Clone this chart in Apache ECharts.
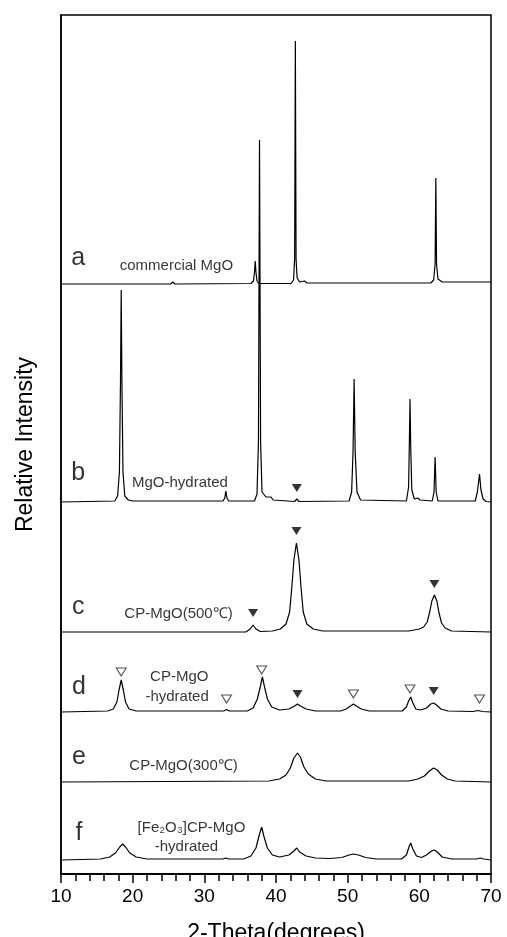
<!DOCTYPE html>
<html>
<head>
<meta charset="utf-8">
<script src="https://cdn.jsdelivr.net/npm/echarts@6/dist/echarts.min.js"></script>
<style>
  html, body { margin: 0; padding: 0; background: #fff; }
  #chart { width: 507px; height: 937px; }
</style>
</head>
<body>
<div id="chart"></div>
<script>
// XRD patterns, stacked. Each pattern: [2-theta, intensity above its own baseline]
const patternNames = ['a', 'b', 'c', 'd', 'e', 'f'];

// vertical offset of each pattern's baseline (same units as intensity)
const offsets = [590, 372, 242, 162, 92, 14];

const commercialMgO = [
  [10, 0], [25.3, 0], [25.6, 2], [25.9, 0], [36.5, 0.5], [36.85, 3], [37.0, 12], [37.1, 23], [37.2, 12],
  [37.35, 3], [37.6, 0.5], [42.1, 0.5], [42.45, 4], [42.6, 25], [42.7, 243], [42.8, 25], [42.95, 6],
  [43.3, 2], [44.0, 3], [44.3, 1], [61.6, 1], [62.0, 4], [62.2, 20], [62.3, 106], [62.4, 20], [62.6, 5],
  [63.2, 2], [70, 2]
];

const mgoHydrated = [
  [10, 0], [17.5, 1], [17.9, 6], [18.15, 30], [18.3, 120], [18.4, 212], [18.5, 120], [18.65, 30],
  [18.9, 6], [19.4, 2], [20, 1], [32.6, 1], [32.85, 4], [33.0, 11], [33.15, 4], [33.4, 1], [37.0, 1],
  [37.35, 8], [37.55, 60], [37.7, 362], [37.85, 60], [38.05, 10], [38.6, 5], [39.3, 5], [39.6, 2],
  [42.6, 0.5], [42.9, 3], [43.2, 0.5], [50.2, 1], [50.55, 10], [50.75, 50], [50.9, 123], [51.05, 50],
  [51.3, 10], [51.8, 2], [58.2, 1], [58.5, 15], [58.6, 55], [58.7, 103], [58.8, 55], [58.95, 12],
  [59.3, 3], [59.8, 4], [60.1, 2], [61.8, 1], [62.05, 10], [62.2, 45], [62.35, 10], [62.6, 1],
  [67.8, 1], [68.1, 10], [68.4, 28], [68.6, 12], [68.9, 3], [69.3, 0.5], [70, 0]
];

const cpMgO500 = [
  [10, 0], [35.8, 0], [36.4, 3], [36.8, 7], [37.2, 3], [37.8, 0.5], [39.5, 1], [40.6, 3], [41.4, 8],
  [41.9, 20], [42.2, 44], [42.5, 72], [42.85, 89], [43.2, 72], [43.5, 44], [43.8, 20], [44.3, 8],
  [45.2, 3], [46.5, 1], [58.5, 1], [60.0, 3], [60.6, 5], [61.1, 10], [61.45, 20], [61.75, 31],
  [62.1, 37], [62.45, 31], [62.75, 19], [63.1, 9], [63.6, 4], [64.5, 1], [70, 0]
];

const cpMgOHydrated = [
  [10, 0], [16.5, 1], [17.3, 3], [17.8, 10], [18.1, 22], [18.4, 32], [18.7, 22], [19.0, 10], [19.5, 3],
  [20.5, 1], [32.7, 1], [33.1, 2.5], [33.5, 1], [36.0, 1], [36.8, 4], [37.4, 13], [37.8, 25], [38.1, 35],
  [38.4, 25], [38.8, 13], [39.4, 5], [40.5, 2], [41.8, 3], [42.6, 6], [43.0, 8], [43.4, 6], [44.2, 3],
  [45.5, 1], [49.0, 1], [49.8, 3], [50.4, 6], [50.8, 8], [51.2, 6], [51.9, 3], [53, 1], [57.6, 1],
  [58.2, 5], [58.5, 11], [58.8, 15], [59.1, 9], [59.5, 3], [60.2, 2], [61.0, 4], [61.6, 8], [62.0, 9],
  [62.4, 7], [63.0, 3], [64, 1], [67.5, 0.5], [68.2, 1.5], [68.8, 0.5], [70, 0]
];

const cpMgO300 = [
  [10, 0], [39, 1], [40.5, 3], [41.4, 7], [42.0, 14], [42.5, 24], [43.0, 29], [43.4, 25], [43.9, 15],
  [44.5, 8], [45.5, 3], [47, 1], [58.5, 1], [59.8, 3], [60.7, 6], [61.4, 11], [62.0, 14], [62.5, 12],
  [63.1, 7], [63.9, 3], [65, 1], [70, 0]
];

const fe2o3Hydrated = [
  [10, 0], [15.5, 1], [16.8, 3], [17.6, 7], [18.2, 13], [18.6, 16], [19.0, 13], [19.6, 7], [20.5, 3],
  [22, 1], [32.6, 1], [33.0, 2], [33.4, 1], [35.5, 1], [36.5, 4], [37.2, 12], [37.7, 26], [38.0, 33],
  [38.3, 24], [38.8, 12], [39.5, 5], [40.5, 3], [41.8, 5], [42.5, 9], [42.9, 12], [43.3, 8], [44.2, 4],
  [45.5, 2], [47.5, 1.5], [49.2, 2.5], [50.2, 5], [50.8, 6], [51.5, 5], [52.5, 2.5], [54, 1], [57.5, 1],
  [58.2, 5], [58.6, 14], [58.8, 17], [59.1, 11], [59.6, 4], [60.3, 2.5], [61.0, 5], [61.7, 9],
  [62.1, 10], [62.5, 8], [63.2, 3], [64.5, 1], [68, 1], [68.5, 2], [69, 1], [70, 0]
];

const patterns = [commercialMgO, mgoHydrated, cpMgO500, cpMgOHydrated, cpMgO300, fe2o3Hydrated];

// peak markers (absolute positions in the stacked plot)
const filledMarks = [[42.9, 386], [36.8, 261], [42.85, 343], [62.1, 290], [43.0, 180], [62.0, 183]];
const openMarks = [[18.4, 202], [33.1, 175], [38.0, 204], [50.8, 180], [58.7, 185], [68.4, 175]];

// letter labels and sample names
const letterPos = [[12.4, 616], [12.4, 401], [12.4, 267], [12.5, 187], [12.5, 117], [12.5, 41]];
const sampleLabels = [
  { name: 'commercial MgO', value: [26.1, 608] },
  { name: 'MgO-hydrated', value: [26.6, 391] },
  { name: 'CP-MgO(500℃)', value: [26.4, 260] },
  { name: 'CP-MgO', value: [26.5, 197] },
  { name: '-hydrated', value: [26.2, 177] },
  { name: 'CP-MgO(300℃)', value: [27.1, 108] },
  { name: '[Fe₂O₃]CP-MgO', value: [28.2, 46] },
  { name: '-hydrated', value: [27.5, 27] }
];

const FONT = '"Liberation Sans", Arial, sans-serif';
const chart = echarts.init(document.getElementById('chart'), null, { renderer: 'canvas' });

const lineSeries = patterns.map((pts, i) => ({
  type: 'line',
  name: patternNames[i],
  data: pts.map(p => [p[0], p[1] + offsets[i]]),
  showSymbol: false,
  symbol: 'none',
  lineStyle: { color: '#000', width: 1.2 },
  animation: false,
  silent: true
}));

const option = {
  backgroundColor: '#fff',
  animation: false,
  grid: {
    left: 61, right: 16, top: 15, bottom: 63,
    outerBoundsMode: 'none',
    show: true, borderColor: '#000', borderWidth: 1.5, backgroundColor: 'transparent'
  },
  xAxis: {
    type: 'value',
    min: 10, max: 70, interval: 10,
    name: '2-Theta(degrees)',
    nameLocation: 'middle',
    nameGap: 48,
    nameTextStyle: { fontSize: 23, fontFamily: FONT, color: '#000' },
    axisLine: { show: true, lineStyle: { color: '#000', width: 2 } },
    axisTick: { show: true, inside: false, length: 9, lineStyle: { color: '#000', width: 1.5 } },
    minorTick: { show: true, splitNumber: 5, length: 7, lineStyle: { color: '#000', width: 1.5 } },
    axisLabel: { fontSize: 19, fontFamily: FONT, color: '#000', margin: 13 },
    splitLine: { show: false }
  },
  yAxis: {
    type: 'value',
    min: 0, max: 859,
    name: 'Relative Intensity',
    nameLocation: 'middle',
    nameRotate: 90,
    nameGap: 24,
    nameTextStyle: { fontSize: 23, fontFamily: FONT, color: '#000' },
    axisLine: { show: true, lineStyle: { color: '#000', width: 1.5 } },
    axisTick: { show: false },
    axisLabel: { show: false },
    splitLine: { show: false }
  },
  series: [
    ...lineSeries,
    {
      type: 'scatter',
      data: filledMarks,
      symbol: 'triangle',
      symbolRotate: 180,
      symbolSize: [10, 8],
      itemStyle: { color: '#000' },
      silent: true
    },
    {
      type: 'scatter',
      data: openMarks,
      symbol: 'triangle',
      symbolRotate: 180,
      symbolSize: [10, 8],
      itemStyle: { color: '#fff', borderColor: '#222', borderWidth: 1 },
      silent: true
    },
    {
      type: 'scatter',
      data: letterPos.map((p, i) => ({ name: patternNames[i], value: p })),
      symbolSize: 0,
      label: {
        show: true, position: 'inside', formatter: '{b}',
        fontSize: 25, fontFamily: FONT, color: '#000'
      },
      silent: true
    },
    {
      type: 'scatter',
      data: sampleLabels,
      symbolSize: 0,
      label: {
        show: true, position: 'inside', formatter: '{b}',
        fontSize: 15, fontFamily: FONT, color: '#000'
      },
      silent: true
    }
  ]
};

chart.setOption(option);
</script>
</body>
</html>
